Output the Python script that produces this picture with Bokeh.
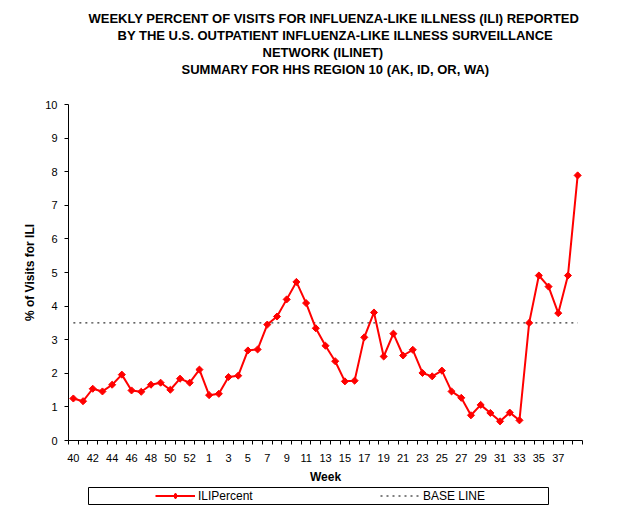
from bokeh.plotting import figure
from bokeh.layouts import column
from bokeh.models import (Range1d, FixedTicker, SingleIntervalTicker, Title, Legend,
                          LegendItem, ColumnDataSource, BoxAnnotation)
from bokeh.embed import file_html
from bokeh.resources import INLINE

# ---- data ----
weeks = ["40", "41", "42", "43", "44", "45", "46", "47", "48", "49", "50", "51", "52", "53",
         "1", "2", "3", "4", "5", "6", "7", "8", "9", "10", "11", "12", "13", "14", "15",
         "16", "17", "18", "19", "20", "21", "22", "23", "24", "25", "26", "27", "28", "29",
         "30", "31", "32", "33", "34", "35", "36", "37", "38", "39"]
ili_percent = [1.25, 1.17, 1.54, 1.46, 1.66, 1.96, 1.49, 1.45, 1.66, 1.72, 1.51, 1.84, 1.72, 2.11,
               1.35, 1.39, 1.89, 1.93, 2.68, 2.71, 3.45, 3.69, 4.20, 4.72, 4.09, 3.34, 2.82, 2.36,
               1.76, 1.78, 3.07, 3.81, 2.50, 3.18, 2.53, 2.70, 2.01, 1.91, 2.08, 1.46, 1.27, 0.75,
               1.06, 0.82, 0.57, 0.83, 0.60, 3.50, 4.91, 4.58, 3.79, 4.91, 7.89]
base_line_value = 3.5
base_line = [base_line_value] * len(weeks)

title_lines = ["WEEKLY PERCENT OF VISITS FOR INFLUENZA-LIKE ILLNESS (ILI) REPORTED",
               "BY THE U.S. OUTPATIENT INFLUENZA-LIKE ILLNESS SURVEILLANCE",
               "NETWORK (ILINET)",
               "SUMMARY FOR HHS REGION 10 (AK, ID, OR, WA)"]
title_offsets = [20, 49, 194, 113]

FONT = "Liberation Sans"
RED = "#FF0000"

n = len(weeks)
xpos = [i + 0.5 for i in range(n)]
src = ColumnDataSource(dict(x=xpos, ili=ili_percent, base=base_line, week=weeks))

p = figure(width=634, height=486, output_backend="svg", toolbar_location=None,
           x_range=Range1d(0, n), y_range=Range1d(0, 10),
           min_border_left=68, min_border_right=52, min_border_top=104, min_border_bottom=45,
           title=None)
p.outline_line_color = None
p.xgrid.visible = False
p.ygrid.visible = False
p.background_fill_color = "white"
p.border_fill_color = "white"

# titles (first added sits nearest the plot); a blank spacer keeps the gap to the plot
p.add_layout(Title(text=" ", text_font=FONT, text_font_size="23px", standoff=0), "above")
for line, off in reversed(list(zip(title_lines, title_offsets))):
    t = Title(text=line, align="left", offset=off, text_font=FONT, text_font_size="13px",
              text_font_style="bold", standoff=0, text_color="black")
    p.add_layout(t, "above")

# series
r_base = p.line("x", "base", source=src, line_color="black", line_width=1, line_dash="2 4")
r_line = p.line("x", "ili", source=src, line_color=RED, line_width=2)
r_mark = p.scatter("x", "ili", source=src, marker="square", angle=0.785398, size=5,
                   fill_color=RED, line_color=RED, line_width=1)

# x axis
xa = p.xaxis[0]
tick_pos = [xpos[i] for i in range(0, 51, 2)]
xa.ticker = FixedTicker(ticks=tick_pos, minor_ticks=list(range(0, n + 1)))
xa.major_label_overrides = {xpos[i]: weeks[i] for i in range(0, 51, 2)}
xa.major_tick_out = 0
xa.major_tick_in = 0
xa.minor_tick_out = 4
xa.minor_tick_in = 0
xa.axis_line_color = "black"
xa.minor_tick_line_color = "black"
xa.major_label_text_font = FONT
xa.major_label_text_font_size = "11px"
xa.major_label_text_color = "black"
xa.major_label_standoff = 9
xa.axis_label = "Week"
xa.axis_label_text_font = FONT
xa.axis_label_text_font_size = "12px"
xa.axis_label_text_font_style = "bold"
xa.axis_label_text_color = "black"
xa.axis_label_standoff = 5

# y axis
ya = p.yaxis[0]
ya.ticker = SingleIntervalTicker(interval=1, num_minor_ticks=0)
ya.major_tick_out = 4
ya.major_tick_in = 0
ya.minor_tick_out = 0
ya.minor_tick_in = 0
ya.axis_line_color = "black"
ya.major_tick_line_color = "black"
ya.major_label_text_font = FONT
ya.major_label_text_font_size = "11px"
ya.major_label_text_color = "black"
ya.major_label_standoff = 7
ya.axis_label = "% of Visits for ILI"
ya.axis_label_text_font = FONT
ya.axis_label_text_font_size = "12px"
ya.axis_label_text_font_style = "bold"
ya.axis_label_text_color = "black"
ya.axis_label_standoff = 5

# legend strip below the chart (same frame borders as the chart)
lg = figure(width=634, height=24, output_backend="svg", toolbar_location=None,
            x_range=p.x_range, y_range=Range1d(-20, -19),
            min_border_left=68, min_border_right=52, min_border_top=0, min_border_bottom=2,
            x_axis_location=None, y_axis_location=None, title=None)
lg.xgrid.visible = False
lg.ygrid.visible = False
lg.outline_line_color = None
lg.border_fill_color = "white"
lg.background_fill_color = "white"
# legend swatches (drawn out of view; only their legend samples show)
lk_line = lg.line("x", "ili", source=src, line_color=RED, line_width=2)
lk_mark = lg.scatter("x", "ili", source=src, marker="diamond", size=8,
                     fill_color=RED, line_color=RED)
lk_base = lg.line("x", "base", source=src, line_color="black", line_width=1, line_dash="2 4")

box = BoxAnnotation(left=20, right=480, bottom=4, top=21,
                    left_units="screen", right_units="screen",
                    bottom_units="screen", top_units="screen",
                    fill_alpha=0, line_color="black", line_width=1, line_alpha=1)
lg.add_layout(box)

legend = Legend(items=[LegendItem(label="ILIPercent", renderers=[lk_line, lk_mark]),
                       LegendItem(label="BASE LINE", renderers=[lk_base])],
                orientation="horizontal", location=(87, 5),
                padding=0, margin=0, spacing=0, glyph_width=40, glyph_height=15,
                label_standoff=3, label_width=182,
                label_text_font=FONT, label_text_font_size="12px", label_text_color="black",
                border_line_alpha=0, background_fill_alpha=0)
lg.add_layout(legend, "center")

layout = column(p, lg, spacing=0)
open("out.html", "w").write(file_html(layout, INLINE))
